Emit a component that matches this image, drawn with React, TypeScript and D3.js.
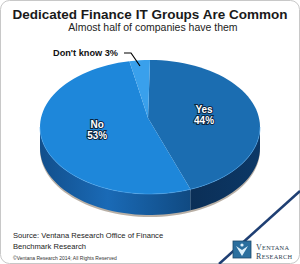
import React from "react";
import * as d3 from "d3";

// Chart data
const categories = ["Yes", "Don't know", "No"];
const values = [44, 3, 53];
const topColors = ["#1b6db1", "#39a0ec", "#1e87da"];
const sideColors = ["#0d3763", "#1a76c4", "#1865ad"];

const title = "Dedicated Finance IT Groups Are Common";
const subtitle = "Almost half of companies have them";
const sourceLines = ["Source: Ventana Research Office of Finance", "Benchmark Research"];
const copyright = "\u00a9Ventana Research 2014; All Rights Reserved";

const W = 300;
const H = 264;

// pie geometry
const cx = 150;
const cy = 127;
const rx = 110;
const ry = 67;
const depth = 21;
const apex = { x: 148, y: 118 };

function pt(a: number, dy = 0) {
  return [cx + rx * Math.sin(a), cy - ry * Math.cos(a) + dy];
}

function arcPoints(a0: number, a1: number, dy = 0) {
  const n = Math.max(2, Math.ceil(((a1 - a0) / Math.PI) * 60));
  return d3.range(n + 1).map((i) => pt(a0 + ((a1 - a0) * i) / n, dy));
}

export default function App() {
  // slices clockwise from 12 o'clock: Yes, No, Don't know
  const order = [0, 2, 1];
  const pie = d3
    .pie<number>()
    .sort(null)
    .value((i) => values[i]);
  const arcs = pie(order);
  const line = d3.line();

  const tops = arcs.map((a) => {
    const pts = [[apex.x, apex.y], ...arcPoints(a.startAngle, a.endAngle)] as [number, number][];
    return { i: a.data, d: line(pts) + "Z", a };
  });

  const sides = arcs
    .map((a) => {
      const s = Math.max(a.startAngle, Math.PI / 2);
      const e = Math.min(a.endAngle, (Math.PI * 3) / 2);
      if (e <= s) return null;
      const upper = arcPoints(s, e);
      const lower = arcPoints(s, e, depth).reverse();
      return { i: a.data, d: line([...upper, ...lower] as [number, number][]) + "Z" };
    })
    .filter(Boolean) as { i: number; d: string }[];

  const shadow = line(
    [...arcPoints(Math.PI / 2 - 0.05, (Math.PI * 3) / 2 + 0.05, 2), ...arcPoints(Math.PI / 2, (Math.PI * 3) / 2, depth + 2).reverse()] as [number, number][]
  ) + "Z";

  // label anchors
  const labelPos: Record<number, [number, number]> = {};
  arcs.forEach((a) => {
    const m = (a.startAngle + a.endAngle) / 2;
    labelPos[a.data] = [cx + rx * 0.5 * Math.sin(m), cy - ry * 0.5 * Math.cos(m)];
  });

  const font = "'Liberation Sans', Arial, sans-serif";
  const rim = line(arcPoints(Math.PI / 2, (Math.PI * 3) / 2) as [number, number][]);

  return (
    <svg width={W} height={H} style={{ position: "absolute", left: 0, top: 0, background: "#fff" }}>
      <defs>
        <linearGradient id="sideNo" x1="0" x2="1" y1="0" y2="0">
          <stop offset="0" stopColor="#124f8c" />
          <stop offset="0.45" stopColor="#1a6ab6" />
          <stop offset="1" stopColor="#104a82" />
        </linearGradient>
        <linearGradient id="sideYes" x1="0" x2="1" y1="0" y2="0">
          <stop offset="0" stopColor="#0b2f57" />
          <stop offset="1" stopColor="#0c3866" />
        </linearGradient>
      </defs>
      <rect x={0.5} y={0.5} width={W - 1} height={H - 1} rx={9} fill="#fff" stroke="#c8c8c8" />
      <line x1={219} y1={H} x2={W} y2={191} stroke="#1f3f73" strokeWidth={2.5} />

      <text x={W / 2} y={19} textAnchor="middle" fontFamily={font} fontSize={13.5} fontWeight="bold" fill="#1a1a1a">
        {title}
      </text>
      <text x={153} y={31} textAnchor="middle" fontFamily={font} fontSize={10.5} fill="#222">
        {subtitle}
      </text>

      <path d={shadow} fill="#a79c90" opacity={0.8} />
      {sides.map((s) => (
        <path key={"s" + s.i} d={s.d} fill={s.i === 2 ? "url(#sideNo)" : s.i === 0 ? "url(#sideYes)" : sideColors[s.i]} />
      ))}
      {tops.map((t) => (
        <path key={"t" + t.i} d={t.d} fill={topColors[t.i]} />
      ))}
      <path d={rim!} fill="none" stroke="#4aa6ee" strokeWidth={0.8} opacity={0.7} />

      {/* leader line for Don't know */}
      <polyline points="124,53 131,53 140,66" fill="none" stroke="#000" strokeWidth={1.2} />
      <text x={53} y={56} fontFamily={font} fontSize={9.2} fontWeight="bold" fill="#111">
        {categories[1]} {values[1]}%
      </text>

      {[0, 2].map((i) => {
        const [x, y] = labelPos[i];
        const dy = -8;
        return (
          <text
            key={"l" + i}
            x={x}
            y={y + dy}
            textAnchor="middle"
            fontFamily={font}
            fontSize={10}
            fontWeight="bold"
            fill="#fff"
            stroke="#0a2540"
            strokeWidth={2}
            paintOrder="stroke"
          >
            <tspan x={x} dy={0}>{categories[i]}</tspan>
            <tspan x={x} dy={11}>{values[i]}%</tspan>
          </text>
        );
      })}

      {sourceLines.map((s, k) => (
        <text key={s} x={13} y={238 + k * 11} fontFamily={font} fontSize={7.6} fill="#222">
          {s}
        </text>
      ))}
      <text x={13} y={260} fontFamily={font} fontSize={5} fill="#333">
        {copyright}
      </text>

      {/* logo */}
      <rect x={233} y={241} width={18} height={17} fill="#2b6f9e" stroke="#1d4a6b" strokeWidth={0.8} />
      <path d="M236,246 L242,256 L248,246 L242,250 Z" fill="#dff1fb" />
      <circle cx={242} cy={245} r={1.6} fill="#dff1fb" />
      <text x={256} y={250} fontFamily="'Liberation Serif', serif" fontSize={8} fill="#2c3e50" letterSpacing={0.3}>
        V<tspan fontSize={6.3}>ENTANA</tspan>
      </text>
      <text x={256} y={259} fontFamily="'Liberation Serif', serif" fontSize={8} fill="#2c3e50" letterSpacing={0.3}>
        R<tspan fontSize={6.3}>ESEARCH</tspan>
      </text>
    </svg>
  );
}
